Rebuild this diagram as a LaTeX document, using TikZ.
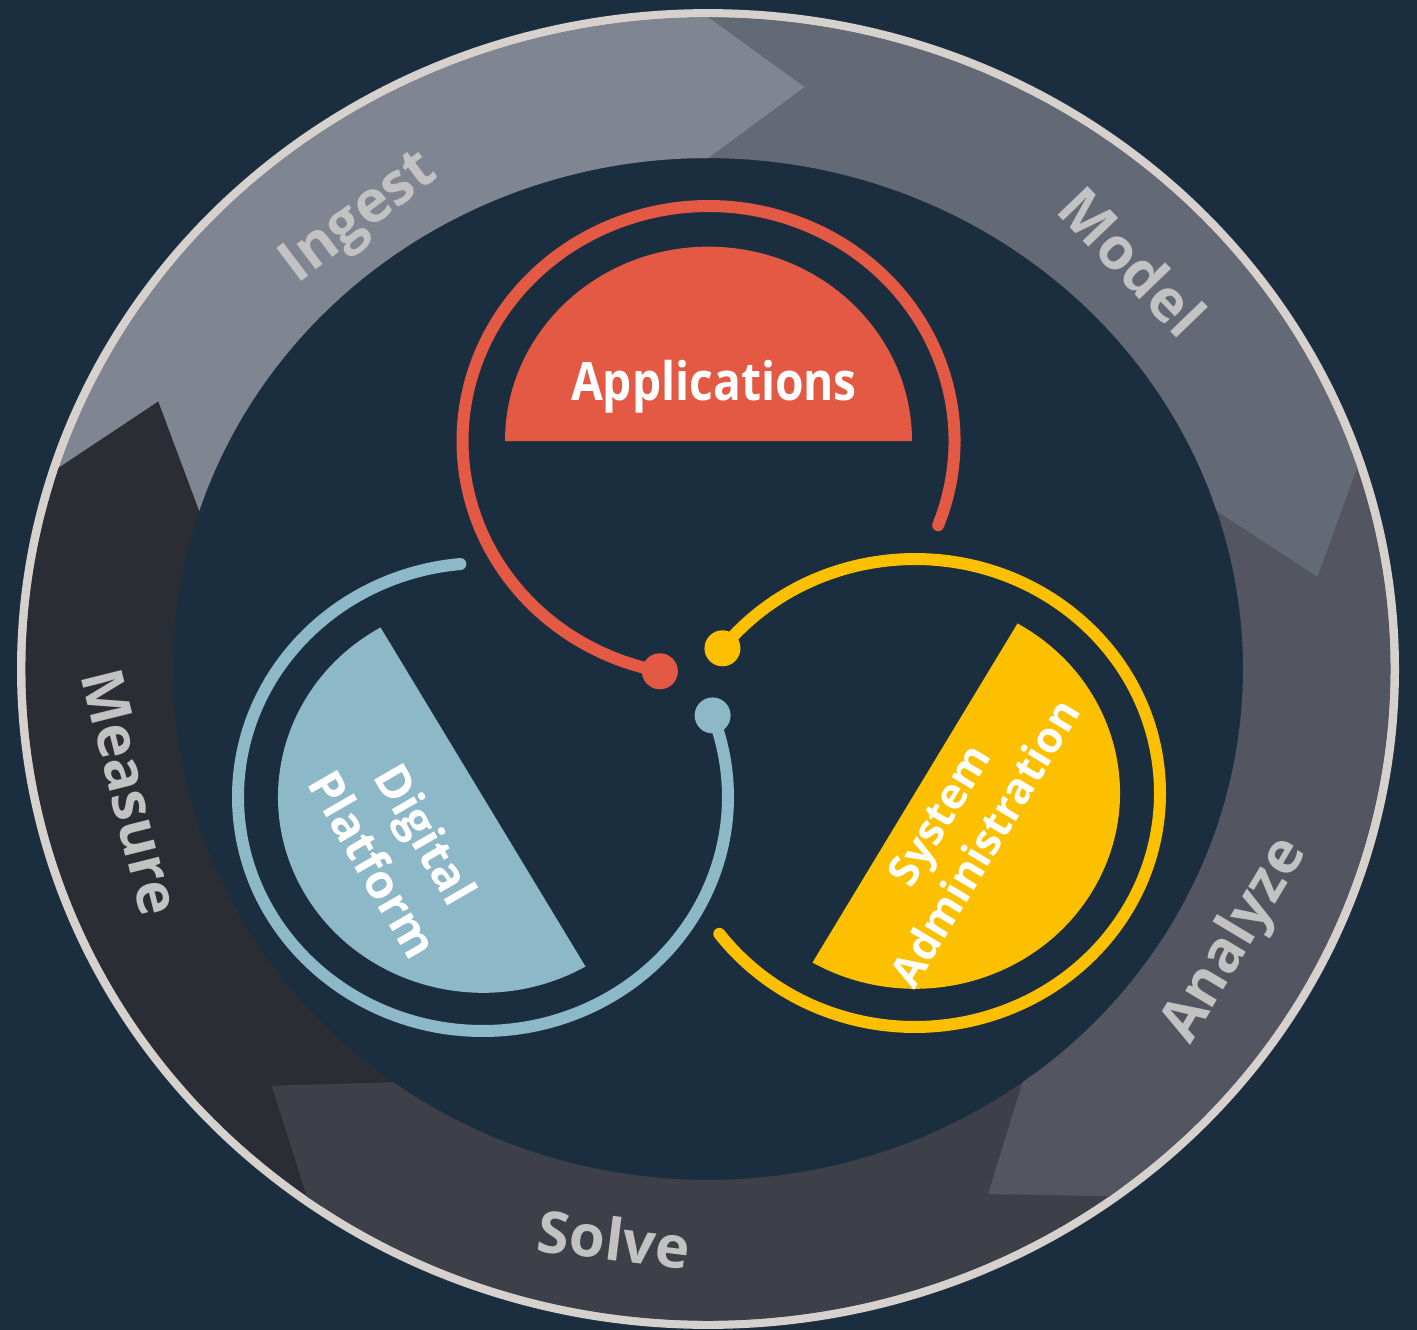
\documentclass[tikz,border=0pt]{standalone}
\usepackage{fontspec}
\setmainfont{Open Sans}
\usepackage{graphicx}
\definecolor{bg}{HTML}{1B2E40}
\definecolor{rimcol}{HTML}{D6D1CD}
\definecolor{ingestcol}{HTML}{7F8591}
\definecolor{modelcol}{HTML}{646A75}
\definecolor{analyzecol}{HTML}{535660}
\definecolor{solvecol}{HTML}{3E4049}
\definecolor{measurecol}{HTML}{2A2D33}
\definecolor{ringtxt}{HTML}{C2C2C2}
\definecolor{appred}{HTML}{E35944}
\definecolor{digblue}{HTML}{8DB8C8}
\definecolor{sysyellow}{HTML}{FDC000}
\begin{document}
\begin{tikzpicture}[x=1pt,y=1pt,
  ringlabel/.style={text=ringtxt, font=\fontsize{58}{60}\selectfont\bfseries, inner sep=0pt, text height=41pt, text depth=0pt},
  inlabel/.style={text=white, inner sep=0pt, align=center},
  arcline/.style={line width=12pt, line cap=round},
]
\fill[bg] (0,0) rectangle (1417,-1330);
\useasboundingbox (0,0) rectangle (1417,-1330);

% ring
\begin{scope}[shift={(708,-669)}, yscale=0.955]
  \fill[rimcol] (0,0) circle[radius=691];
  \fill[bg] (0,0) circle[radius=682];
  \foreach \s/\c in {162/ingestcol, 90/modelcol, 18/analyzecol, -54/solvecol, -126/measurecol}{
    \fill[\c] (\s+0.3:682.5) arc[start angle=\s+0.3, end angle=\s-72, radius=682.5]
      -- (\s-72:535) arc[start angle=\s-72, end angle=\s+0.3, radius=535] -- cycle;
  }
  \foreach \s/\c in {162/ingestcol, 90/modelcol, 18/analyzecol, -54/solvecol, -126/measurecol}{
    \fill[\c] (\s-70.5:682.5) arc[start angle=\s-70.5, end angle=\s-72, radius=682.5]
      -- (\s-81:617) -- (\s-72:535) arc[start angle=\s-72, end angle=\s-70.5, radius=535] -- cycle;
  }
\end{scope}

% ring labels
\node[ringlabel, rotate=37] (ingest) at (356,-214) {Ingest};
\node[ringlabel, rotate=-46] (model) at (1132,-262) {Model};
\node[ringlabel, rotate=59] (analyze) at (1231,-938) {Analyze};
\node[ringlabel, rotate=-7] (solve) at (614,-1240) {Solve};
\node[ringlabel, rotate=-76] (measure) at (131,-792) {Measure};

% Applications (red)
\begin{scope}[shift={(708.5,-441)}, yscale=0.955]
  \fill[appred] (0:203.5) arc[start angle=0, end angle=180, radius=203.5] -- cycle;
  \draw[appred, arcline] (-21:246) arc[start angle=-21, end angle=258.6, radius=246];
  \coordinate (reddot) at (258.6:246);
\end{scope}
\fill[appred] (reddot) circle[radius=18];

% Digital Platform (blue)
\begin{scope}[shift={(483,-797)}, yscale=0.955]
  \fill[digblue] (120:205) arc[start angle=120, end angle=300, radius=205] -- cycle;
  \draw[digblue, arcline] (95.3:245) arc[start angle=95.3, end angle=380.4, radius=245];
  \coordinate (bluedot) at (20.4:245);
\end{scope}
\fill[digblue] (bluedot) circle[radius=18];

% System Administration (yellow)
\begin{scope}[shift={(915,-793)}, yscale=0.955]
  \fill[sysyellow] (60:205) arc[start angle=60, end angle=-120, radius=205] -- cycle;
  \draw[sysyellow, arcline] (141.8:245) arc[start angle=141.8, end angle=-143, radius=245];
  \coordinate (yellowdot) at (141.8:245);
\end{scope}
\fill[sysyellow] (yellowdot) circle[radius=18];

% inner labels
\node[inlabel, anchor=base, font=\fontsize{53}{60}\selectfont\bfseries] (apps) at (714,-400) {\scalebox{0.87}[1]{Applications}};
\node[inlabel, rotate=-60, font=\fontsize{47}{61}\selectfont\bfseries] (digital) at (400,-849) {Digital\\Platform};
\node[inlabel, rotate=59, font=\fontsize{43}{54}\selectfont\bfseries] (sysadmin) at (962,-829) {System\\Administration};
\end{tikzpicture}
\end{document}
